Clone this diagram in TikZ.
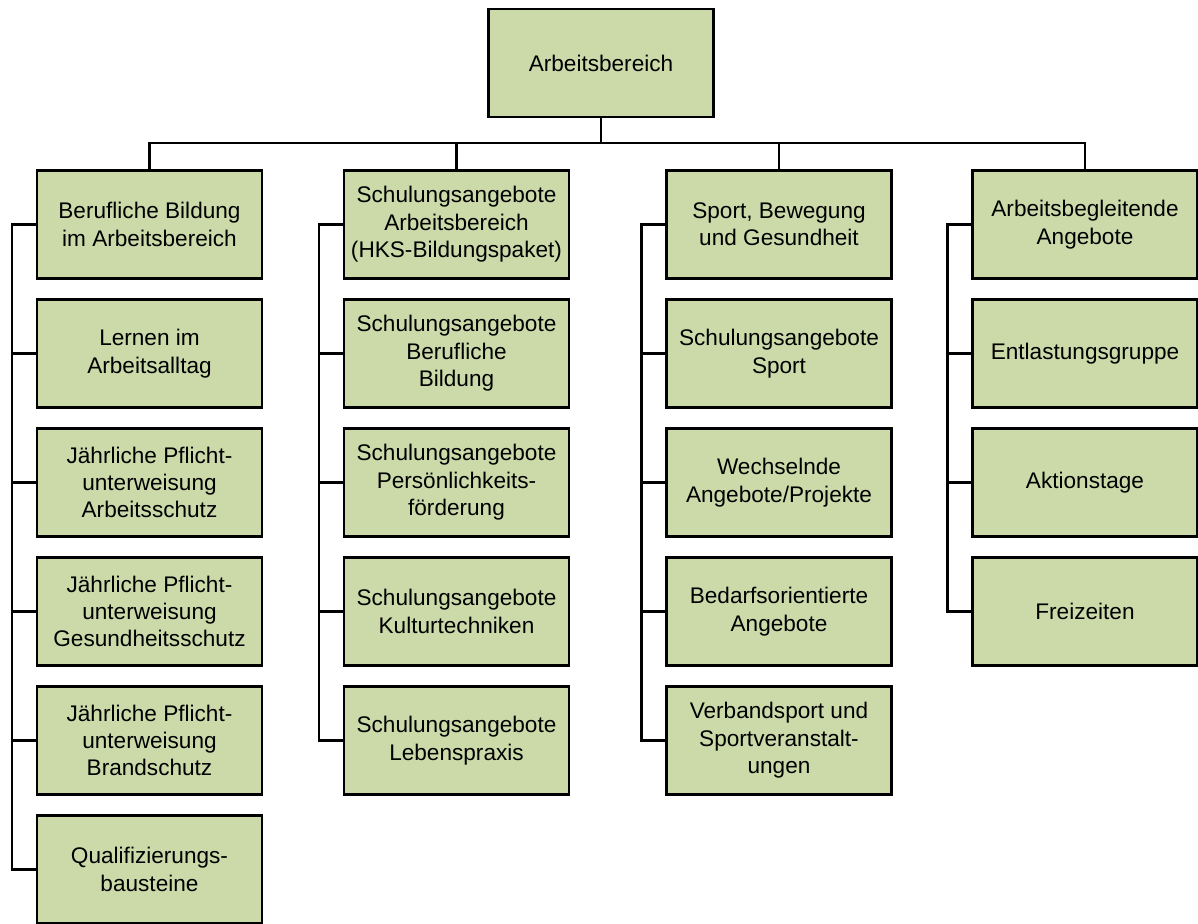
\documentclass[tikz,border=0pt]{standalone}
\usepackage{fontspec}
\setmainfont{Liberation Sans}
\definecolor{boxgreen}{RGB}{204,218,170}
\tikzset{
  box/.style={draw, fill=boxgreen, line width=1.2pt, minimum width=112.5pt,
    minimum height=54pt, inner sep=0pt, align=center,
    font=\fontsize{11.3}{13.7}\selectfont},
  link/.style={line width=1.2pt}
}

\begin{document}
\begin{tikzpicture}[x=0.5pt, y=-0.5pt]
  \useasboundingbox (0,0) rectangle (1198,923);

  \node[box] (top) at (601,63) {Arbeitsbereich};

  \foreach \t [count=\r] in {{Berufliche Bildung\\im Arbeitsbereich},
      {Lernen im\\Arbeitsalltag},
      {Jährliche Pflicht-\\unterweisung\\Arbeitsschutz},
      {Jährliche Pflicht-\\unterweisung\\Gesundheitsschutz},
      {Jährliche Pflicht-\\unterweisung\\Brandschutz},
      {Qualifizierungs-\\bausteine}} {
    \node[box] (c1-\r) at (149.5, {224.5+129*(\r-1)}) {\t};
  }
  \foreach \t [count=\r] in {{Schulungsangebote\\Arbeitsbereich\\(HKS-Bildungspaket)},
      {Schulungsangebote\\Berufliche\\Bildung},
      {Schulungsangebote\\Persönlichkeits-\\förderung},
      {Schulungsangebote\\Kulturtechniken},
      {Schulungsangebote\\Lebenspraxis}} {
    \node[box] (c2-\r) at (456.5, {224.5+129*(\r-1)}) {\t};
  }
  \foreach \t [count=\r] in {{Sport, Bewegung\\und Gesundheit},
      {Schulungsangebote\\Sport},
      {Wechselnde\\Angebote/Projekte},
      {Bedarfsorientierte\\Angebote},
      {Verbandsport und\\Sportveranstalt-\\ungen}} {
    \node[box] (c3-\r) at (779, {224.5+129*(\r-1)}) {\t};
  }
  \foreach \t [count=\r] in {{Arbeitsbegleitende\\Angebote},
      {Entlastungsgruppe},
      {Aktionstage},
      {Freizeiten}} {
    \node[box] (c4-\r) at (1085, {224.5+129*(\r-1)}) {\t};
  }

  \foreach \c in {1,...,4}
    \draw[link] (top.south) -- ++(0,25) -| (c\c-1.north);

  \foreach \c/\n in {1/6, 2/5, 3/5, 4/4} {
    \foreach \r in {2,...,\n}
      \draw[link] (c\c-1.west) -- ++(-24,0) |- (c\c-\r.west);
  }
\end{tikzpicture}
\end{document}
